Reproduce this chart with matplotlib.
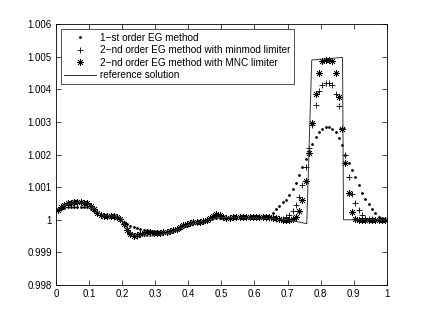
import numpy as np
import matplotlib
matplotlib.use("Agg")
import matplotlib.pyplot as plt

plt.rcParams['font.family'] = ['Liberation Sans', 'DejaVu Sans']

# cell centres of the 100-cell mesh
x_cells = (np.arange(100) + 0.5) / 100

# 1-st order EG method
eg1 = [1.0003, 1.00033, 1.00036, 1.00038, 1.00039, 1.0004, 1.0004, 1.0004, 1.0004, 1.00038,
       1.00033, 1.00027, 1.0002, 1.00015, 1.00012, 1.0001, 1.0001, 1.00008, 1.00005, 1.0,
       0.99994, 0.99988, 0.99982, 0.99978, 0.99975, 0.99972, 0.9997, 0.99968, 0.99967, 0.99966,
       0.99965, 0.99963, 0.99962, 0.99962, 0.99963, 0.99965, 0.99968, 0.99972, 0.99977, 0.99982,
       0.99986, 0.99989, 0.99991, 0.99992, 0.99994, 0.99997, 1.00001, 1.00004, 1.00006, 1.00006,
       1.00006, 1.00005, 1.00005, 1.00006, 1.00006, 1.00007, 1.00007, 1.00007, 1.00006, 1.00006,
       1.00006, 1.00006, 1.00007, 1.00008, 1.0001, 1.00022, 1.00033, 1.00042, 1.00053, 1.00062,
       1.00076, 1.00094, 1.00114, 1.00137, 1.00161, 1.00185, 1.0021, 1.00233, 1.00253, 1.00268,
       1.00278, 1.00283, 1.00283, 1.00278, 1.00268, 1.0025, 1.00228, 1.002, 1.00175, 1.00153,
       1.0013, 1.00107, 1.00083, 1.00063, 1.00048, 1.00032, 1.0002, 1.0001, 1.00004, 1.00002]

# 2-nd order EG method with minmod limiter
eg2_minmod = [1.0003, 1.00037, 1.00044, 1.00049, 1.00051, 1.00052, 1.00052, 1.00052, 1.00051, 1.00049,
              1.00042, 1.00032, 1.00022, 1.00016, 1.00013, 1.00012, 1.00011, 1.0001, 1.00008, 1.00003,
              0.9999, 0.99975, 0.9996, 0.9995, 0.99951, 0.99955, 0.99959, 0.9996, 0.9996, 0.9996,
              0.9996, 0.9996, 0.99961, 0.99962, 0.99965, 0.99968, 0.99972, 0.99977, 0.99983, 0.99988,
              0.99991, 0.99992, 0.99993, 0.99994, 0.99996, 0.99999, 1.00003, 1.00008, 1.00012, 1.00011,
              1.00007, 1.00005, 1.00006, 1.00007, 1.00008, 1.00008, 1.00008, 1.00007, 1.00007, 1.00007,
              1.00007, 1.00007, 1.00007, 1.00006, 1.00005, 1.00004, 1.00003, 1.00002, 1.00003, 1.00008,
              1.00015, 1.00028, 1.00045, 1.0007, 1.00107, 1.00162, 1.0022, 1.0029, 1.00352, 1.00395,
              1.00412, 1.00418, 1.00418, 1.00412, 1.00385, 1.00348, 1.0028, 1.002, 1.0013, 1.0008,
              1.00052, 1.0003, 1.00015, 1.00006, 1.00003, 1.00001, 1.0, 1.0, 1.0, 1.0]

# 2-nd order EG method with MNC limiter
eg2_mnc = [1.0003, 1.00038, 1.00045, 1.0005, 1.00052, 1.00053, 1.00053, 1.00053, 1.00052, 1.0005,
           1.00043, 1.00032, 1.00022, 1.00016, 1.00013, 1.00012, 1.00012, 1.00011, 1.00009, 1.00003,
           0.99988, 0.9997, 0.99955, 0.99951, 0.99952, 0.99957, 0.9996, 0.99961, 0.99961, 0.9996,
           0.9996, 0.9996, 0.99961, 0.99962, 0.99965, 0.99968, 0.99972, 0.99977, 0.99983, 0.99988,
           0.99991, 0.99992, 0.99993, 0.99994, 0.99996, 0.99999, 1.00004, 1.00012, 1.00017, 1.00015,
           1.00007, 1.00005, 1.00006, 1.00007, 1.00008, 1.00008, 1.00008, 1.00008, 1.00008, 1.00008,
           1.00008, 1.00008, 1.00008, 1.00008, 1.00007, 1.00006, 1.00004, 1.00002, 1.0, 1.0,
           1.0, 1.00003, 1.0001, 1.00027, 1.0006, 1.0012, 1.00204, 1.00298, 1.00385, 1.00451,
           1.00486, 1.00489, 1.0049, 1.00488, 1.00451, 1.00377, 1.00277, 1.00174, 1.00081, 1.00025,
           1.00003, 1.0, 1.0, 1.0, 1.0, 1.0, 1.0, 1.0, 1.0, 1.0]

# reference solution
x_ref = [0.0, 0.02, 0.04, 0.06, 0.08, 0.1, 0.12, 0.14, 0.16, 0.18, 0.195, 0.21, 0.22, 0.24,
         0.26, 0.28, 0.3, 0.32, 0.34, 0.36, 0.38, 0.4, 0.42, 0.44, 0.46, 0.48, 0.5, 0.55,
         0.6, 0.65, 0.7, 0.758, 0.773, 0.866, 0.869, 1.0]
y_ref = [1.0003, 1.00042, 1.0005, 1.00052, 1.00052, 1.0005, 1.00028, 1.00015, 1.00012, 1.00011,
         1.00007, 0.9998, 0.99965, 0.99952, 0.99951, 0.9995, 0.99951, 0.99955, 0.9996, 0.99966,
         0.99975, 0.99985, 0.9999, 0.99993, 0.99998, 1.00005, 1.00007, 1.00007, 1.00006, 1.00004,
         1.0, 0.99988, 1.0049, 1.00498, 1.0, 1.0]

fig = plt.figure(figsize=(4.27, 3.22), dpi=100)
ax = fig.add_axes([0.131, 0.115, 0.775, 0.81])

ax.plot(x_cells, eg1, linestyle='none', marker='.', markersize=2.0, color='k',
        label='1\u2212st order EG method')
ax.plot(x_cells, eg2_minmod, linestyle='none', marker='+', markersize=5, markeredgewidth=0.6,
        color='k', label='2\u2212nd order EG method with minmod limiter')
ax.plot(x_cells, eg2_mnc, linestyle='none', marker=(8, 2, 0), markersize=5, markeredgewidth=0.5,
        color='k', label='2\u2212nd order EG method with MNC limiter')
ax.plot(x_ref, y_ref, color='#333333', linewidth=0.7, label='reference solution')

ax.set_xlim(0, 1)
ax.set_ylim(0.998, 1.006)
ax.set_xticks(np.arange(0, 1.01, 0.1))
ax.set_xticklabels(['0', '0.1', '0.2', '0.3', '0.4', '0.5', '0.6', '0.7', '0.8', '0.9', '1'])
ax.set_yticks(np.arange(0.998, 1.0061, 0.001))
ax.set_yticklabels(['0.998', '0.999', '1', '1.001', '1.002', '1.003', '1.004', '1.005', '1.006'])
ax.tick_params(direction='in', top=True, right=True, length=3.5, width=0.5, labelsize=7, pad=3)
for s in ax.spines.values():
    s.set_linewidth(0.6)

leg = ax.legend(loc='upper left', fontsize=7.2, frameon=True, fancybox=False,
                edgecolor='k', handlelength=3.2, handletextpad=0.4, labelspacing=0.25,
                borderpad=0.35, borderaxespad=0.5, markerscale=1.0)
leg.get_frame().set_linewidth(0.6)

fig.savefig('out.png', dpi=100)
